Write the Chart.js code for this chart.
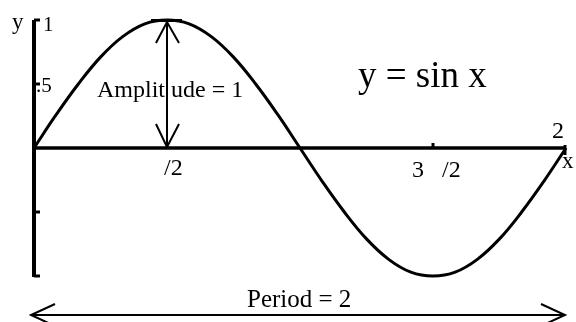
<!DOCTYPE html>
<html>
<head>
<meta charset="utf-8">
<script src="https://cdn.jsdelivr.net/npm/chart.js@4.4.1/dist/chart.umd.min.js"></script>
<style>
  html, body { margin: 0; padding: 0; background: #fff; }
  #wrap { width: 576px; height: 322px; }
</style>
</head>
<body>
<div id="wrap"><canvas id="sineChart"></canvas></div>
<script>
// angle in degrees (0 .. 2 pi) and the curve height
const xDeg = [0, 15, 30, 45, 60, 75, 90, 105, 120, 135, 150, 165, 180,
              195, 210, 225, 240, 255, 270, 285, 300, 315, 330, 345, 360];
const yVals = [0, 0.26, 0.5, 0.71, 0.87, 0.97, 1, 0.97, 0.87, 0.71, 0.5, 0.26, 0,
               -0.26, -0.5, -0.71, -0.87, -0.97, -1, -0.97, -0.87, -0.71, -0.5, -0.26, 0];

// tick marks and their labels (the pi glyphs are missing in the original)
const yTickVals = [1, 0.5, -0.5, -1];
const yTickLabels = ['1', '.5', '', ''];
const xTickVals = [90, 270, 360];
const xTickLabels = ['/2', '3   /2', '2'];

const serif = '"Liberation Serif", "Times New Roman", serif';

const annotate = {
    id: 'annotate',
    afterDatasetsDraw(chart) {
        const ctx = chart.ctx;
        const px = v => chart.scales.x.getPixelForValue(v);
        const py = v => chart.scales.y.getPixelForValue(v);

        function line(x1, y1, x2, y2, w) {
            ctx.lineWidth = w;
            ctx.beginPath();
            ctx.moveTo(x1, y1);
            ctx.lineTo(x2, y2);
            ctx.stroke();
        }
        function text(str, x, y, size) {
            ctx.font = size + 'px ' + serif;
            ctx.fillText(str, x, y);
        }

        ctx.save();
        ctx.strokeStyle = '#000';
        ctx.fillStyle = '#000';
        ctx.lineCap = 'butt';
        ctx.textBaseline = 'alphabetic';

        // axes
        const x0 = px(0), y0 = py(0);
        line(x0, py(1), x0, py(-1) + 1, 4);
        line(x0, y0, px(360), y0, 3.5);

        // y ticks + labels
        yTickVals.forEach(v => line(x0, py(v), x0 + 6, py(v), 3));
        text('y', 12, 29, 23);
        text(yTickLabels[0], 43, 31, 21);
        text(yTickLabels[1], 36, 92, 21);

        // x ticks + labels
        line(px(xTickVals[1]), y0 - 5, px(xTickVals[1]), y0, 3);
        line(px(xTickVals[2]) - 1, y0 - 3, px(xTickVals[2]) - 1, y0 + 7, 3);
        text(xTickLabels[0], px(xTickVals[0]) - 3, 175, 24);
        text(xTickLabels[1], px(xTickVals[1]) - 21, 177, 24);
        text(xTickLabels[2], px(xTickVals[2]) - 14, 138, 24);
        text('x', px(360) - 4, 168, 23);

        // amplitude arrow
        const ax = px(90);
        const top = py(1) + 2, bot = y0 - 1;
        line(ax - 16, py(1) + 0.5, ax + 15, py(1) + 0.5, 3);
        line(ax, top, ax, bot, 2);
        ctx.lineWidth = 2;
        ctx.beginPath();
        ctx.moveTo(ax - 11, top + 21); ctx.lineTo(ax, top); ctx.lineTo(ax + 12, top + 21);
        ctx.moveTo(ax - 11, bot - 23); ctx.lineTo(ax, bot); ctx.lineTo(ax + 12, bot - 23);
        ctx.stroke();
        text('Amplit ude = 1', 97, 97, 24);

        // period arrow
        const ly = 315, lx1 = x0 - 3, lx2 = px(360) - 1;
        line(lx1, ly, lx2, ly, 2);
        ctx.beginPath();
        ctx.moveTo(lx1 + 24, ly - 11); ctx.lineTo(lx1, ly); ctx.lineTo(lx1 + 24, ly + 11);
        ctx.moveTo(lx2 - 24, ly - 11); ctx.lineTo(lx2, ly); ctx.lineTo(lx2 - 24, ly + 11);
        ctx.stroke();
        text('Period = 2', 247, 307, 25);

        // title
        text('y = sin x', 358, 87, 37);

        ctx.restore();
    }
};

new Chart(document.getElementById('sineChart').getContext('2d'), {
    type: 'scatter',
    data: {
        datasets: [{
            data: xDeg.map((x, i) => ({ x: x, y: yVals[i] })),
            showLine: true,
            borderColor: '#000',
            borderWidth: 3,
            pointRadius: 0,
            tension: 0.4,
            clip: false
        }]
    },
    options: {
        responsive: true,
        maintainAspectRatio: false,
        animation: false,
        layout: {
            padding: { left: 34, right: 10, top: 20, bottom: 46 }
        },
        plugins: {
            legend: { display: false },
            tooltip: { enabled: false }
        },
        scales: {
            x: { type: 'linear', min: 0, max: 360, display: false },
            y: { min: -1, max: 1, display: false }
        }
    },
    plugins: [annotate]
});
</script>
</body>
</html>
